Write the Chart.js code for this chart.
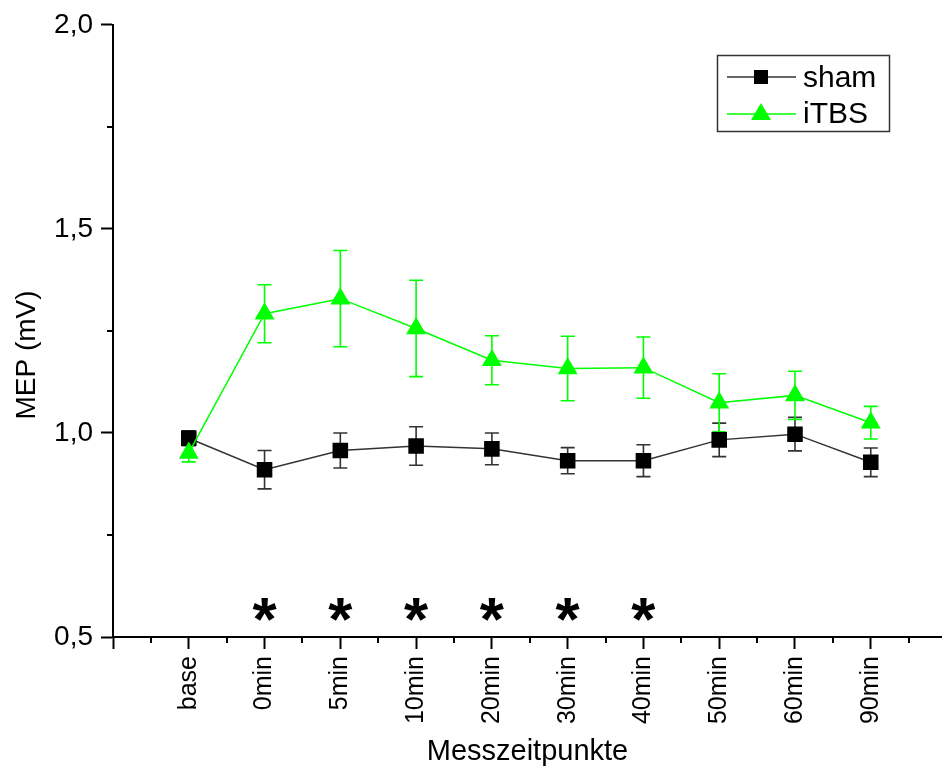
<!DOCTYPE html>
<html>
<head>
<meta charset="utf-8">
<script src="https://cdn.jsdelivr.net/npm/chart.js@4.4.1/dist/chart.umd.min.js"></script>
<style>
  html, body { margin: 0; padding: 0; background: #fff; }
  #wrap { width: 942px; height: 767px; }
</style>
</head>
<body>
<div id="wrap"><canvas id="mepChart" width="942" height="767"></canvas></div>
<script>
// --- data ---
const categories = ['base', '0min', '5min', '10min', '20min', '30min', '40min', '50min', '60min', '90min'];
const shamMean = [0.987, 0.910, 0.957, 0.968, 0.961, 0.932, 0.932, 0.983, 0.997, 0.928];
const shamErr  = [0.018, 0.047, 0.043, 0.047, 0.039, 0.032, 0.039, 0.041, 0.041, 0.035];
const itbsMean = [0.951, 1.292, 1.329, 1.256, 1.178, 1.158, 1.160, 1.074, 1.092, 1.025];
const itbsErr  = [0.022, 0.071, 0.118, 0.118, 0.060, 0.079, 0.075, 0.071, 0.059, 0.040];
const starIndex = [1, 2, 3, 4, 5, 6];   // significant time points (*)
const starLevel = 0.568;

const yMajor = [0.5, 1.0, 1.5, 2.0];
const yTickLabels = ['0,5', '1,0', '1,5', '2,0'];
const yMinor = [0.75, 1.25, 1.75];
const xMajor = [-1, 0, 1, 2, 3, 4, 5, 6, 7, 8, 9];
const xMinor = [-0.5, 0.5, 1.5, 2.5, 3.5, 4.5, 5.5, 6.5, 7.5, 8.5, 9.5];

const FONT = "'Liberation Sans', Arial, sans-serif";
const GREEN = '#00ff00';
const DARK = '#333333';

const toPoints = (arr) => arr.map((v, i) => ({ x: i, y: v }));

// error bars, minor ticks, y title, asterisks and the boxed legend
const extras = {
    id: 'extras',
    beforeDatasetsDraw(chart) {
        const { ctx, scales: { x, y } } = chart;
        const sets = [[shamMean, shamErr, DARK], [itbsMean, itbsErr, GREEN]];
        ctx.save();
        ctx.lineWidth = 1.6;
        sets.forEach(([mean, err, col]) => {
            ctx.strokeStyle = col;
            mean.forEach((m, i) => {
                const px = x.getPixelForValue(i);
                const top = y.getPixelForValue(m + err[i]);
                const bot = y.getPixelForValue(m - err[i]);
                ctx.beginPath();
                ctx.moveTo(px, top); ctx.lineTo(px, bot);
                ctx.moveTo(px - 7, top); ctx.lineTo(px + 7, top);
                ctx.moveTo(px - 7, bot); ctx.lineTo(px + 7, bot);
                ctx.stroke();
            });
        });
        ctx.restore();
    },
    afterDraw(chart) {
        const { ctx, scales: { x, y } } = chart;
        ctx.save();
        // minor ticks
        ctx.strokeStyle = '#000';
        ctx.lineWidth = 2;
        ctx.beginPath();
        xMinor.forEach(v => {
            const px = Math.round(x.getPixelForValue(v));
            ctx.moveTo(px, y.bottom); ctx.lineTo(px, y.bottom + 6);
        });
        yMinor.forEach(v => {
            const py = Math.round(y.getPixelForValue(v));
            ctx.moveTo(x.left, py); ctx.lineTo(x.left - 6, py);
        });
        ctx.stroke();

        // y axis title, sits a little below the axis centre in the original
        ctx.save();
        ctx.translate(27, 355);
        ctx.rotate(-Math.PI / 2);
        ctx.fillStyle = '#000';
        ctx.font = '28px ' + FONT;
        ctx.textAlign = 'center';
        ctx.textBaseline = 'middle';
        ctx.fillText('MEP (mV)', 0, 0);
        ctx.restore();

        // significance stars
        ctx.fillStyle = '#000';
        ctx.font = 'bold 62px ' + FONT;
        ctx.textAlign = 'center';
        ctx.textBaseline = 'alphabetic';
        const m = ctx.measureText('*');
        const shift = (m.actualBoundingBoxAscent - m.actualBoundingBoxDescent) / 2;
        starIndex.forEach(i => {
            ctx.fillText('*', x.getPixelForValue(i), y.getPixelForValue(starLevel) + shift);
        });

        // legend box
        ctx.lineWidth = 1.5;
        ctx.strokeStyle = DARK;
        ctx.strokeRect(717.5, 55.5, 172, 76);
        ctx.font = '30px ' + FONT;
        ctx.textAlign = 'left';
        ctx.textBaseline = 'middle';

        ctx.strokeStyle = DARK;
        ctx.beginPath(); ctx.moveTo(727, 77); ctx.lineTo(796, 77); ctx.stroke();
        ctx.fillStyle = '#000';
        ctx.fillRect(754, 70, 14, 14);
        ctx.fillText('sham', 803, 79);

        ctx.strokeStyle = GREEN;
        ctx.beginPath(); ctx.moveTo(727, 114); ctx.lineTo(796, 114); ctx.stroke();
        ctx.fillStyle = GREEN;
        ctx.beginPath();
        ctx.moveTo(761, 103); ctx.lineTo(771, 120); ctx.lineTo(751, 120);
        ctx.closePath(); ctx.fill();
        ctx.fillStyle = '#000';
        ctx.fillText('iTBS', 803, 115);
        ctx.restore();
    }
};

new Chart(document.getElementById('mepChart'), {
    type: 'line',
    data: {
        datasets: [
            {
                label: 'sham',
                data: toPoints(shamMean),
                borderColor: DARK,
                borderWidth: 1.5,
                pointStyle: 'rect',
                pointRadius: 11,
                pointBackgroundColor: '#000',
                pointBorderColor: '#000',
                pointBorderWidth: 0,
                order: 2
            },
            {
                label: 'iTBS',
                data: toPoints(itbsMean),
                borderColor: GREEN,
                borderWidth: 1.5,
                pointStyle: 'triangle',
                pointRadius: 11.5,
                pointBackgroundColor: GREEN,
                pointBorderColor: GREEN,
                pointBorderWidth: 0,
                order: 1
            }
        ]
    },
    options: {
        responsive: false,
        animation: false,
        layout: { autoPadding: false, padding: { top: 22, right: 0, bottom: 0, left: 0 } },
        plugins: { legend: { display: false }, tooltip: { enabled: false } },
        scales: {
            x: {
                type: 'linear',
                min: -1,
                max: 9.94,
                afterBuildTicks: (s) => { s.ticks = xMajor.map(v => ({ value: v })); },
                afterFit: (s) => { s.height = 130; s.paddingLeft = 0; s.paddingRight = 0; },
                border: { display: true, color: '#000', width: 2 },
                grid: { drawOnChartArea: false, drawTicks: true, tickLength: 12, tickWidth: 2, tickColor: '#000' },
                ticks: {
                    autoSkip: false,
                    minRotation: 90,
                    maxRotation: 90,
                    padding: 7,
                    color: '#000',
                    font: { family: FONT, size: 25 },
                    callback: (v) => categories[v] ?? ''
                },
                title: {
                    display: true,
                    text: 'Messzeitpunkte',
                    color: '#000',
                    font: { family: FONT, size: 29 },
                    padding: { top: 0, bottom: -2 }
                }
            },
            y: {
                min: 0.5,
                max: 2.0,
                afterBuildTicks: (s) => { s.ticks = yMajor.map(v => ({ value: v })); },
                afterFit: (s) => { s.width = 113; },
                border: { display: true, color: '#000', width: 2 },
                grid: { drawOnChartArea: false, drawTicks: true, tickLength: 12, tickWidth: 2, tickColor: '#000' },
                ticks: {
                    padding: 8,
                    color: '#000',
                    font: { family: FONT, size: 28 },
                    callback: (v) => yTickLabels[yMajor.indexOf(v)]
                }
            }
        }
    },
    plugins: [extras]
});
</script>
</body>
</html>
